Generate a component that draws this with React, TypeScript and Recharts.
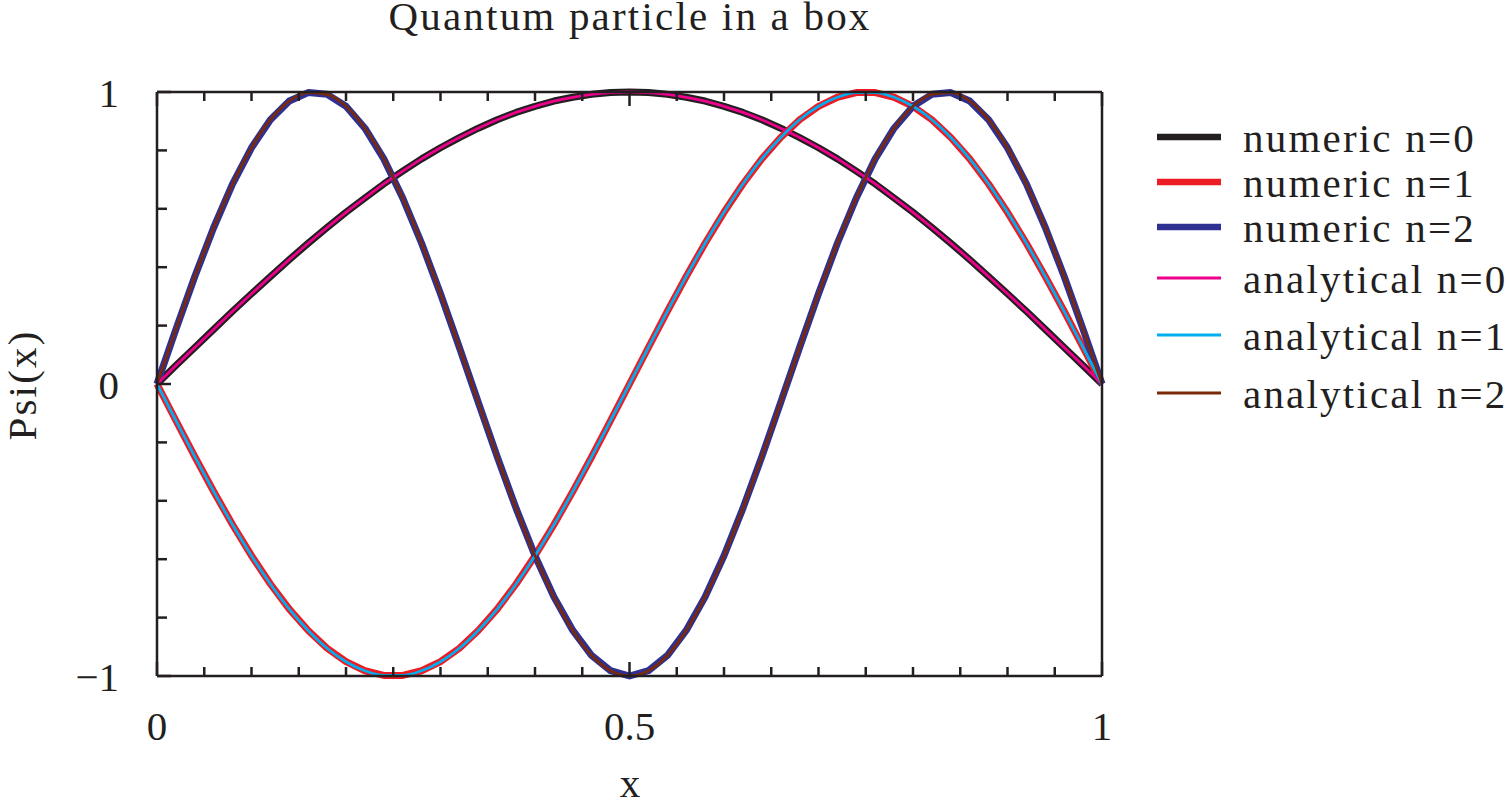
import React from 'react';
import { LineChart, Line, XAxis, YAxis, Legend } from 'recharts';

// sample positions along the box
const xs = [
  0, 0.02, 0.04, 0.06, 0.08, 0.1, 0.12, 0.14, 0.16, 0.18, 0.2, 0.22, 0.24, 0.26, 0.28, 0.3, 0.32,
  0.34, 0.36, 0.38, 0.4, 0.42, 0.44, 0.46, 0.48, 0.5, 0.52, 0.54, 0.56, 0.58, 0.6, 0.62, 0.64, 0.66,
  0.68, 0.7, 0.72, 0.74, 0.76, 0.78, 0.8, 0.82, 0.84, 0.86, 0.88, 0.9, 0.92, 0.94, 0.96, 0.98, 1,
];

const psi0 = [
  0, 0.063, 0.125, 0.187, 0.249, 0.309, 0.368, 0.426, 0.482, 0.536, 0.588, 0.637, 0.685, 0.729,
  0.771, 0.809, 0.844, 0.876, 0.905, 0.93, 0.951, 0.969, 0.982, 0.992, 0.998, 1, 0.998, 0.992,
  0.982, 0.969, 0.951, 0.93, 0.905, 0.876, 0.844, 0.809, 0.771, 0.729, 0.685, 0.637, 0.588, 0.536,
  0.482, 0.426, 0.368, 0.309, 0.249, 0.187, 0.125, 0.063, 0,
];

// n=1 (red / cyan curve)
const psi1 = [
  0, -0.125, -0.249, -0.368, -0.482, -0.588, -0.685, -0.771, -0.844, -0.905, -0.951, -0.982,
  -0.998, -0.998, -0.982, -0.951, -0.905, -0.844, -0.771, -0.685, -0.588, -0.482, -0.368, -0.249,
  -0.125, 0, 0.125, 0.249, 0.368, 0.482, 0.588, 0.685, 0.771, 0.844, 0.905, 0.951, 0.982, 0.998,
  0.998, 0.982, 0.951, 0.905, 0.844, 0.771, 0.685, 0.588, 0.482, 0.368, 0.249, 0.125, 0,
];

// n=2 (blue / brown curve)
const psi2 = [
  0, 0.187, 0.368, 0.536, 0.685, 0.809, 0.905, 0.969, 0.998, 0.992, 0.951, 0.876, 0.771, 0.637,
  0.482, 0.309, 0.125, -0.063, -0.249, -0.426, -0.588, -0.729, -0.844, -0.93, -0.982, -1, -0.982,
  -0.93, -0.844, -0.729, -0.588, -0.426, -0.249, -0.063, 0.125, 0.309, 0.482, 0.637, 0.771, 0.876,
  0.951, 0.992, 0.998, 0.969, 0.905, 0.809, 0.685, 0.536, 0.368, 0.187, 0,
];

const xTicks = [0, 0.05, 0.1, 0.15, 0.2, 0.25, 0.3, 0.35, 0.4, 0.45, 0.5, 0.55, 0.6, 0.65, 0.7, 0.75, 0.8, 0.85, 0.9, 0.95, 1];
const yTicks = [-1, -0.8, -0.6, -0.4, -0.2, 0, 0.2, 0.4, 0.6, 0.8, 1];
const xLabelled = [0, 0.5, 1];
const yLabelled = [-1, 0, 1];

const seriesNames = ['numeric n=0', 'numeric n=1', 'numeric n=2', 'analytical n=0', 'analytical n=1', 'analytical n=2'];
const seriesKeys = ['num0', 'num1', 'num2', 'ana0', 'ana1', 'ana2'];

const data = xs.map((x, i) => ({
  x,
  num0: psi0[i],
  num1: psi1[i],
  num2: psi2[i],
  ana0: psi0[i],
  ana1: psi1[i],
  ana2: psi2[i],
}));

const INK = '#231f20';
const FONT = '"Liberation Serif", "Times New Roman", serif';
const colors = ['#231f20', '#ed1c24', '#2e3192', '#ec008c', '#00aeef', '#7a2a0a'];
const widths = [7, 7, 7, 2.8, 2.8, 2.8];
const legendRowY = [25, 70, 115, 166, 223, 281];

const fmt = (v: number) => (v < 0 ? '\u2212' + Math.abs(v) : String(v));

const BottomTick = (props: any) => {
  const { x, y, payload } = props;
  const major = xLabelled.includes(payload.value);
  return (
    <g>
      <line x1={x} y1={y} x2={x} y2={y - (major ? 14 : 9)} stroke={INK} strokeWidth={2.5} />
      {major && (
        <text x={x} y={y + 64} textAnchor="middle" fontFamily={FONT} fontSize={41} fill={INK}>
          {fmt(payload.value)}
        </text>
      )}
    </g>
  );
};

const TopTick = (props: any) => {
  const { x, y, payload } = props;
  const major = xLabelled.includes(payload.value);
  return <line x1={x} y1={y} x2={x} y2={y + (major ? 14 : 9)} stroke={INK} strokeWidth={2.5} />;
};

const LeftTick = (props: any) => {
  const { x, y, payload } = props;
  const major = yLabelled.includes(payload.value);
  return (
    <g>
      <line x1={x} y1={y} x2={x + (major ? 14 : 10)} y2={y} stroke={INK} strokeWidth={2.5} />
      {major && (
        <text x={x - 38} y={y + 15} textAnchor="end" fontFamily={FONT} fontSize={41} fill={INK}>
          {fmt(payload.value)}
        </text>
      )}
    </g>
  );
};

const RightTick = (props: any) => {
  const { x, y, payload } = props;
  const major = yLabelled.includes(payload.value);
  return <line x1={x} y1={y} x2={x - (major ? 14 : 10)} y2={y} stroke={INK} strokeWidth={2.5} />;
};

const LegendBox = () => (
  <svg width={359} height={320}>
    {seriesNames.map((name, i) => (
      <g key={name}>
        <line x1={7} x2={71} y1={legendRowY[i]} y2={legendRowY[i]} stroke={colors[i]} strokeWidth={i < 3 ? 6.5 : 3} />
        <text x={93} y={legendRowY[i] + 15} fontFamily={FONT} fontSize={41} letterSpacing={2.2} fill={INK}>
          {name}
        </text>
      </g>
    ))}
  </svg>
);

export default function App() {
  const axisLine = { stroke: INK, strokeWidth: 2.5 };
  return (
    <div style={{ position: 'absolute', left: 0, top: 0, width: 1509, height: 800, background: '#fff' }}>
      <LineChart width={1509} height={800} data={data} margin={{ top: 82, right: 397, bottom: 64, left: 97 }}>
        <XAxis
          dataKey="x"
          type="number"
          domain={[0, 1]}
          ticks={xTicks}
          interval={0}
          tickSize={0}
          tickMargin={0}
          tickLine={false}
          axisLine={axisLine}
          height={60}
          tick={<BottomTick />}
        />
        <XAxis
          xAxisId="top"
          orientation="top"
          dataKey="x"
          type="number"
          domain={[0, 1]}
          ticks={xTicks}
          interval={0}
          tickSize={0}
          tickMargin={0}
          tickLine={false}
          axisLine={axisLine}
          height={10}
          tick={<TopTick />}
        />
        <YAxis
          type="number"
          domain={[-1, 1]}
          ticks={yTicks}
          interval={0}
          tickSize={0}
          tickMargin={0}
          tickLine={false}
          axisLine={axisLine}
          width={60}
          tick={<LeftTick />}
        />
        <YAxis
          yAxisId="right"
          orientation="right"
          type="number"
          domain={[-1, 1]}
          ticks={yTicks}
          interval={0}
          tickSize={0}
          tickMargin={0}
          tickLine={false}
          axisLine={axisLine}
          width={10}
          tick={<RightTick />}
        />
        {seriesKeys.map((k, i) => (
          <Line
            key={k}
            dataKey={k}
            name={seriesNames[i]}
            type={i < 3 ? 'linear' : 'monotone'}
            stroke={colors[i]}
            strokeWidth={widths[i]}
            strokeLinejoin="round"
            dot={false}
            activeDot={false}
            isAnimationActive={false}
          />
        ))}
        <Legend
          layout="vertical"
          align="center"
          verticalAlign="middle"
          content={<LegendBox />}
          wrapperStyle={{ position: 'absolute', left: 1150, top: 112, width: 359, height: 320 }}
        />
      </LineChart>
      <svg width={1509} height={800} style={{ position: 'absolute', left: 0, top: 0, pointerEvents: 'none' }}>
        <text x={630} y={30} textAnchor="middle" fontFamily={FONT} fontSize={41} letterSpacing={2.2} fill={INK}>
          Quantum particle in a box
        </text>
        <text x={630} y={797} textAnchor="middle" fontFamily={FONT} fontSize={41} fill={INK}>
          x
        </text>
        <text
          x={36}
          y={385}
          transform="rotate(-90 36 385)"
          textAnchor="middle"
          fontFamily={FONT}
          fontSize={41}
          letterSpacing={2.2}
          fill={INK}
        >
          Psi(x)
        </text>
      </svg>
    </div>
  );
}
